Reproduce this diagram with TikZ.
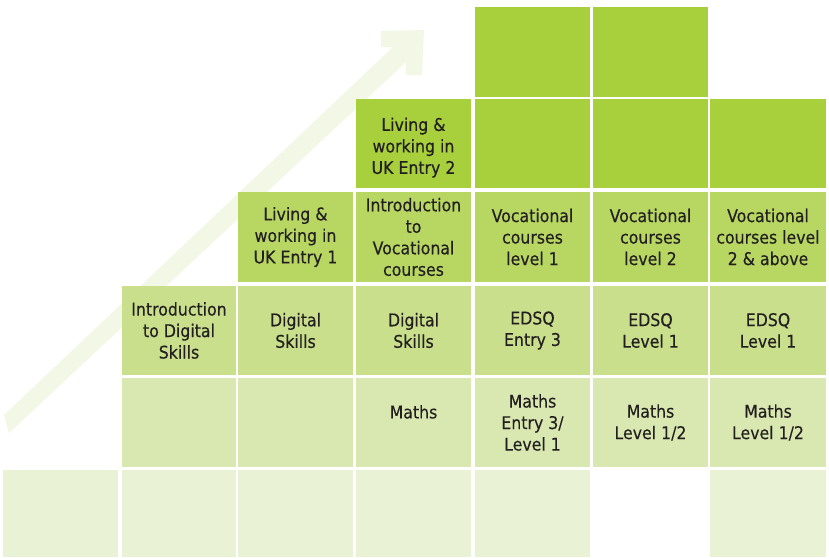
\documentclass[tikz,border=0pt]{standalone}
\usepackage{fontspec}
\setmainfont{DejaVu Sans}[FakeStretch=0.9,FakeBold=0.35]
\newfontfamily\mathsfont{DejaVu Sans}[FakeStretch=0.9,FakeBold=0.15]
\definecolor{gA}{HTML}{A8CF3C}
\definecolor{gB}{HTML}{B8D762}
\definecolor{gC}{HTML}{C9DF8B}
\definecolor{gD}{HTML}{D9E8B0}
\definecolor{gE}{HTML}{E9F2D5}
\definecolor{arrowc}{HTML}{F2F7E6}
\definecolor{txt}{HTML}{231F20}
\begin{document}
\begin{tikzpicture}[x=1pt,y=-1pt,
  cell/.style={rectangle, inner sep=0pt, minimum width=115pt, minimum height=89pt,
    align=center, text=txt, font=\fontsize{17.5}{21.5}\selectfont},
  mcell/.style={cell, font=\mathsfont\fontsize{17.5}{21.5}\selectfont},
  wide/.style={minimum width=116pt}]
\useasboundingbox (0,0) rectangle (829,557);
% rising arrow
\fill[arrowc] (4,415) -- (393,47) -- (381,47) -- (381,31) -- (424,30) -- (422,75)
  -- (406,75) -- (406,62) -- (9,433) -- cycle;
% row 0
\node[cell, fill=gA, minimum height=90pt] (r0c4) at (532.5,52) {};
\node[cell, fill=gA, minimum height=90pt] (r0c5) at (650.5,52) {};
% row 1
\node[cell, fill=gA] (r1c3) at (413.5,143.5) {\rule{0pt}{6pt}\\[-6pt]Living \&\\working in\\UK Entry 2};
\node[cell, fill=gA] (r1c4) at (532.5,143.5) {};
\node[cell, fill=gA] (r1c5) at (650.5,143.5) {};
\node[cell, wide, fill=gA] (r1c6) at (768,143.5) {};
% row 2
\node[cell, fill=gB, minimum height=90pt] (r2c2) at (295.5,237) {Living \&\\working in\\UK Entry 1};
\node[cell, fill=gB, minimum height=90pt] (r2c3) at (413.5,237) {Introduction\\to\\Vocational\\courses};
\node[cell, fill=gB, minimum height=90pt] (r2c4) at (532.5,237) {Vocational\\courses\\level 1};
\node[cell, fill=gB, minimum height=90pt] (r2c5) at (650.5,237) {Vocational\\courses\\level 2};
\node[cell, wide, fill=gB, minimum height=90pt] (r2c6) at (768,237) {Vocational\\courses level\\2 \& above};
% row 3
\node[cell, fill=gC, minimum width=114pt] (r3c1) at (179,330.5) {Introduction\\to Digital\\Skills};
\node[cell, fill=gC] (r3c2) at (295.5,330.5) {Digital\\Skills};
\node[cell, fill=gC] (r3c3) at (413.5,330.5) {Digital\\Skills};
\node[cell, fill=gC] (r3c4) at (532.5,330.5) {EDSQ\\Entry 3};
\node[cell, fill=gC] (r3c5) at (650.5,330.5) {EDSQ\\Level 1};
\node[cell, wide, fill=gC] (r3c6) at (768,330.5) {EDSQ\\Level 1};
% row 4
\node[cell, fill=gD, minimum width=114pt] (r4c1) at (179,422.5) {};
\node[cell, fill=gD] (r4c2) at (295.5,422.5) {};
\node[mcell, fill=gD] (r4c3) at (413.5,422.5) {Maths\\\mbox{}};
\node[mcell, fill=gD] (r4c4) at (532.5,422.5) {Maths\\Entry 3/\\Level 1};
\node[mcell, fill=gD] (r4c5) at (650.5,422.5) {Maths\\Level 1/2};
\node[mcell, wide, fill=gD] (r4c6) at (768,422.5) {Maths\\Level 1/2};
% row 5
\node[cell, fill=gE, minimum height=87pt] (r5c0) at (60.5,513.5) {};
\node[cell, fill=gE, minimum height=87pt, minimum width=114pt] (r5c1) at (179,513.5) {};
\node[cell, fill=gE, minimum height=87pt] (r5c2) at (295.5,513.5) {};
\node[cell, fill=gE, minimum height=87pt] (r5c3) at (413.5,513.5) {};
\node[cell, fill=gE, minimum height=87pt] (r5c4) at (532.5,513.5) {};
\node[cell, wide, fill=gE, minimum height=87pt] (r5c6) at (768,513.5) {};
\end{tikzpicture}
\end{document}
